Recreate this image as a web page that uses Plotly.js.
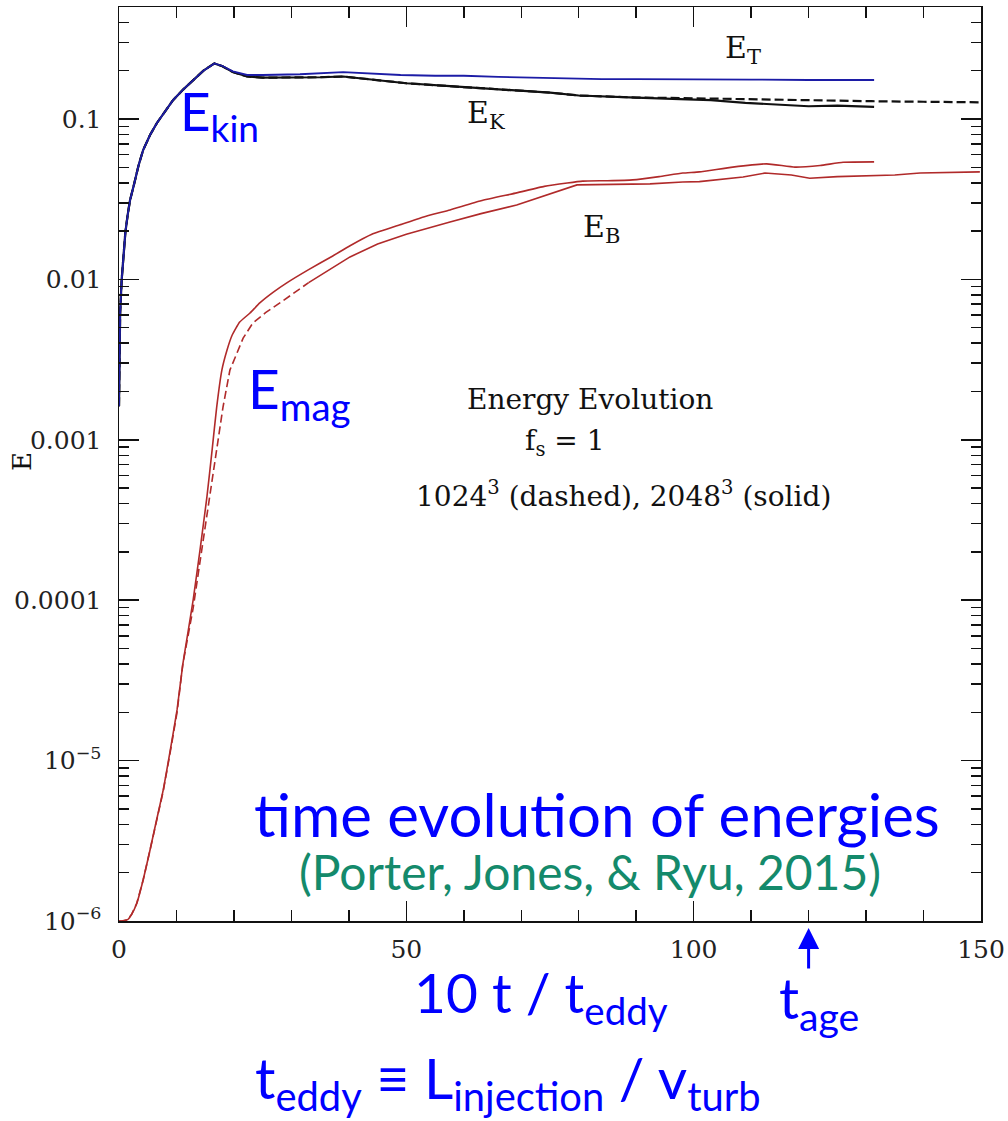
<!DOCTYPE html>
<html>
<head>
<meta charset="utf-8">
<script src="https://cdn.plot.ly/plotly-3.0.1.min.js"></script>
<style>
  html, body { margin: 0; padding: 0; background: #ffffff; }
  #chart { width: 1008px; height: 1121px; }
</style>
</head>
<body>
<div id="chart"></div>
<script>
// Time axis: 10 t / t_eddy
// Kinetic energy, 2048^3 run (solid)
const tKin2048 = [0, 0.1, 0.2, 0.47, 0.8, 1.1, 1.5, 1.9, 2.6, 3.4, 4.2, 5.4, 6.6, 8, 9.4, 11.2, 12.9, 14.7, 16.6, 18, 19.8, 22.3, 25, 30, 35, 39, 45, 50, 57.6, 66, 75, 80, 84, 90, 97.6, 103, 109, 115, 120, 125, 131.4];
const eKin2048 = [0.00162, 0.00347, 0.00617, 0.01, 0.0141, 0.0195, 0.0251, 0.0309, 0.0389, 0.0513, 0.064, 0.0794, 0.0944, 0.112, 0.131, 0.153, 0.175, 0.2, 0.222, 0.213, 0.196, 0.184, 0.181, 0.181, 0.182, 0.184, 0.175, 0.167, 0.16, 0.153, 0.146, 0.14, 0.138, 0.136, 0.133, 0.131, 0.126, 0.123, 0.12, 0.121, 0.119];

// Kinetic energy, 1024^3 run (dashed)
const tKin1024 = [0, 0.1, 0.2, 0.47, 0.8, 1.1, 1.5, 1.9, 2.6, 3.4, 4.2, 5.4, 6.6, 8, 9.4, 11.2, 12.9, 14.7, 16.6, 18, 19.8, 22.3, 25, 30, 35, 39, 45, 50, 57.6, 66, 75, 80, 84, 90, 97.6, 103, 109, 115, 120, 125, 131, 140, 150];
const eKin1024 = [0.00162, 0.00347, 0.00617, 0.01, 0.0141, 0.0195, 0.0251, 0.0309, 0.0389, 0.0513, 0.064, 0.0794, 0.0944, 0.112, 0.131, 0.153, 0.175, 0.2, 0.222, 0.213, 0.196, 0.184, 0.181, 0.181, 0.182, 0.184, 0.175, 0.167, 0.16, 0.153, 0.146, 0.14, 0.138, 0.136, 0.135, 0.134, 0.132, 0.131, 0.13, 0.13, 0.129, 0.128, 0.127];

// Total energy, 2048^3 run
const tTot = [0, 0.1, 0.2, 0.47, 0.8, 1.1, 1.5, 1.9, 2.6, 3.4, 4.2, 5.4, 6.6, 8, 9.4, 11.2, 12.9, 14.7, 16.6, 18, 19.8, 22.3, 25, 31.5, 39, 45, 49, 55, 60, 66, 72, 78, 84, 90, 101, 110, 120, 131.4];
const eTot = [0.00162, 0.00347, 0.00617, 0.01, 0.0141, 0.0195, 0.0251, 0.0309, 0.0389, 0.0513, 0.064, 0.0794, 0.0944, 0.112, 0.131, 0.153, 0.175, 0.2, 0.222, 0.214, 0.198, 0.188, 0.188, 0.19, 0.196, 0.19, 0.188, 0.186, 0.186, 0.183, 0.181, 0.178, 0.177, 0.177, 0.177, 0.176, 0.175, 0.175];

// Magnetic energy, 2048^3 run (solid)
const tMag2048 = [0, 0.5, 1.5, 2.2, 3.1, 4.2, 5.4, 6.5, 7.7, 8.9, 10.1, 11.1, 12, 12.9, 14.1, 15.3, 16.2, 17, 17.9, 18.8, 19.7, 21, 22.8, 24.5, 26.8, 29.2, 33, 37.2, 40.2, 44, 48.9, 53, 57.6, 63, 69.2, 74, 78, 80.7, 85, 89.4, 94, 98.1, 101, 106.8, 112.7, 117.6, 122, 126, 131.4];
const eMag2048 = [1.0e-6, 1.0e-6, 1.02e-6, 1.1e-6, 1.29e-6, 1.8e-6, 2.77e-6, 4.2e-6, 6.56e-6, 1.15e-5, 2.07e-5, 3.98e-5, 6.3e-5, 1.0e-4, 2.06e-4, 4.4e-4, 8.63e-4, 1.6e-3, 2.72e-3, 3.63e-3, 4.5e-3, 5.42e-3, 6.17e-3, 7.13e-3, 8.3e-3, 9.51e-3, 0.0115, 0.014, 0.0162, 0.0191, 0.0219, 0.0245, 0.0271, 0.0309, 0.0346, 0.038, 0.0399, 0.041, 0.0412, 0.0417, 0.0437, 0.046, 0.0468, 0.0501, 0.0525, 0.0501, 0.0513, 0.0537, 0.054];

// Magnetic energy, 1024^3 run (dashed)
const tMag1024 = [0, 0.5, 1.5, 2.2, 3.1, 4.2, 5.4, 6.5, 7.7, 8.9, 10.1, 11.1, 12, 12.9, 14.1, 15, 15.8, 16.9, 18.1, 19.3, 20.5, 21.6, 23.3, 25.5, 28, 33, 37.2, 40.2, 45, 50, 57.6, 63, 69.2, 75, 79.7, 86, 92.4, 98.1, 101, 108.6, 112.4, 117, 120.2, 125, 130.7, 135, 139.4, 145, 149.8];
const eMag1024 = [1.0e-6, 1.0e-6, 1.02e-6, 1.1e-6, 1.29e-6, 1.8e-6, 2.77e-6, 4.1e-6, 6.46e-6, 1.12e-5, 2.0e-5, 3.98e-5, 6.0e-5, 8.91e-5, 1.74e-4, 2.9e-4, 4.4e-4, 8.63e-4, 1.6e-3, 2.72e-3, 3.47e-3, 4.3e-3, 5.35e-3, 6.2e-3, 7.13e-3, 9.55e-3, 0.0119, 0.0138, 0.0166, 0.0191, 0.0228, 0.0257, 0.0291, 0.0339, 0.0388, 0.0391, 0.0394, 0.0405, 0.0407, 0.0435, 0.046, 0.0447, 0.0427, 0.0437, 0.0441, 0.0447, 0.046, 0.0462, 0.0468];

// Axis ticks
const xTickVals = [0, 50, 100, 150];
const yTickVals = [1e-6, 1e-5, 1e-4, 1e-3, 1e-2, 1e-1];
const yTickText = ['10<sup>\u22126</sup>', '10<sup>\u22125</sup>', '0.0001', '0.001', '0.01', '0.1'];

const RED = '#b02a2a';
const NAVY = '#1c1ca6';
const INK = '#111111';
const BLUE = '#0000ff';
const GREEN = '#148a6b';
const SERIF = 'DejaVu Serif, serif';
const SANS = 'Lato, Open Sans, sans-serif';

// dashed part of the 1024^3 magnetic curve shows only during the fast-growth phase
const splitT = 33;
const iSplit = tMag1024.indexOf(splitT);

const traces = [
  { x: tMag1024.slice(0, iSplit + 1), y: eMag1024.slice(0, iSplit + 1), mode: 'lines',
    line: { color: RED, width: 1.6, dash: '8px,4px' }, name: 'E_B 1024 early' },
  { x: tMag1024.slice(iSplit), y: eMag1024.slice(iSplit), mode: 'lines',
    line: { color: RED, width: 1.6 }, name: 'E_B 1024' },
  { x: tMag2048, y: eMag2048, mode: 'lines', line: { color: RED, width: 1.6, shape: 'spline', smoothing: 0.4 }, name: 'E_B 2048' },
  { x: tKin2048, y: eKin2048, mode: 'lines', line: { color: INK, width: 2.2 }, name: 'E_K 2048' },
  { x: tKin1024, y: eKin1024, mode: 'lines', line: { color: INK, width: 2.2, dash: '9px,4px' }, name: 'E_K 1024' },
  { x: tTot, y: eTot, mode: 'lines', line: { color: NAVY, width: 1.8 }, name: 'E_T 2048' }
];

// pixel helpers for free-standing labels (plot area spans 119..981 x 7..921)
const L = 119, R = 981, T = 7, B = 921;
const px = v => (v - L) / (R - L);
const py = v => (B - v) / (B - T);

function note(text, x, y, size, color, family, xanchor) {
  return { text: text, xref: 'paper', yref: 'paper', x: px(x), y: py(y),
    xanchor: xanchor || 'center', yanchor: 'middle', showarrow: false,
    font: { family: family, size: size, color: color } };
}

const annotations = [
  note('E<sub>T</sub>', 723, 50, 30, INK, SERIF, 'left'),
  note('E<sub>K</sub>', 465, 114, 30, INK, SERIF, 'left'),
  note('E<sub>B</sub>', 581, 228, 30, INK, SERIF, 'left'),
  note('Energy Evolution', 590, 400, 28, INK, SERIF),
  note('f<sub>s</sub> = 1', 565, 442, 28, INK, SERIF),
  note('1024<sup>3</sup> (dashed), 2048<sup>3</sup> (solid)', 623, 495, 28, INK, SERIF),
  { text: 'E', xref: 'paper', yref: 'paper', x: px(22), y: py(462), textangle: -90,
    xanchor: 'center', yanchor: 'middle', showarrow: false,
    font: { family: SERIF, size: 26, color: INK } },
  note('E<sub>kin</sub>', 178, 114, 53, BLUE, SANS, 'left'),
  note('E<sub>mag</sub>', 246, 392, 55, BLUE, SANS, 'left'),
  note('time evolution of energies', 597, 814, 60, BLUE, SANS),
  note('(Porter, Jones, &amp; Ryu, 2015)', 590, 871, 48, GREEN, SANS),
  note('10 t / t<sub>eddy</sub>', 541, 996, 55, BLUE, SANS),
  note('t<sub>age</sub>', 819, 1001, 56, BLUE, SANS),
  note('t<sub>eddy</sub> \u2261 L<sub>injection</sub> / v<sub>turb</sub>', 508, 1081, 57, BLUE, SANS),
  // arrow marking the age at t = 120
  { text: '', xref: 'x', yref: 'paper', x: 120, y: py(928), ax: 0, ay: 42,
    showarrow: true, arrowhead: 2, arrowsize: 1.4, arrowwidth: 3, arrowcolor: BLUE }
];

const axisCommon = {
  showgrid: false, zeroline: false, showline: true, linecolor: INK, linewidth: 1.5,
  mirror: 'ticks', ticks: 'inside', ticklen: 20, tickwidth: 1.5, tickcolor: INK,
  tickfont: { family: SERIF, size: 25, color: '#222222' }
};

const layout = {
  width: 1008, height: 1121,
  margin: { l: L, r: 1008 - R, t: T, b: 1121 - B, pad: 0 },
  paper_bgcolor: '#ffffff', plot_bgcolor: '#ffffff',
  showlegend: false,
  xaxis: Object.assign({}, axisCommon, {
    range: [0, 150], tickmode: 'array', tickvals: xTickVals,
    ticklabelstandoff: 5,
    minor: { dtick: 10, tick0: 0, ticks: 'inside', ticklen: 11, tickwidth: 1.5, tickcolor: INK }
  }),
  yaxis: Object.assign({}, axisCommon, {
    type: 'log', range: [-6, -0.302], tickmode: 'array', tickvals: yTickVals, ticktext: yTickText,
    ticklabelstandoff: 11,
    minor: { dtick: 'D1', ticks: 'inside', ticklen: 10, tickwidth: 1.5, tickcolor: INK }
  }),
  annotations: annotations
};

Plotly.newPlot('chart', traces, layout, { displayModeBar: false, staticPlot: true });
</script>
</body>
</html>
